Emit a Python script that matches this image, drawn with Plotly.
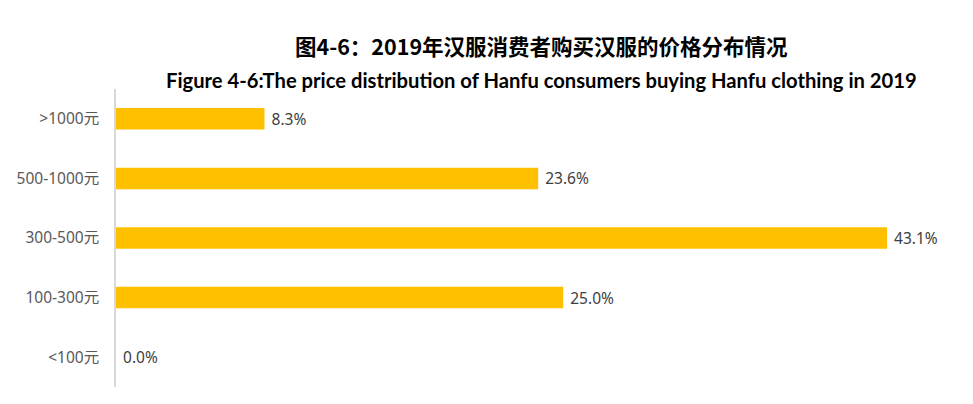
import plotly.graph_objects as go

categories = ["<100元", "100-300元", "300-500元", "500-1000元", ">1000元"]
values = [0.0, 25.0, 43.1, 23.6, 8.3]
title_cn = "图4-6：2019年汉服消费者购买汉服的价格分布情况"
title_en = "Figure 4-6:The price distribution of Hanfu consumers buying Hanfu clothing in 2019"

W, H = 957, 388
L, R, T, B = 108, 44, 81, 9

fig = go.Figure(go.Bar(
    x=values, y=categories, orientation="h",
    marker=dict(color="#FFC000", line=dict(width=0)),
    width=0.36,
    text=["\u00a0" + f"{v:.1f}%" for v in values],
    textposition="outside",
    constraintext="none",
    textfont=dict(family="Noto Sans, DejaVu Sans, sans-serif", size=15.5, color="#404040"),
    cliponaxis=False,
))

fig.update_layout(
    width=W, height=H,
    margin=dict(l=L, r=R, t=T, b=B),
    plot_bgcolor="white", paper_bgcolor="white",
    showlegend=False,
    xaxis=dict(range=[0, 45], visible=False, showgrid=False, zeroline=False),
    yaxis=dict(
        categoryorder="array", categoryarray=categories,
        showline=True, linecolor="#D9D9D9", linewidth=1.5,
        ticks="", ticklabelstandoff=12, automargin=False,
        tickfont=dict(family="Noto Sans, Noto Sans CJK SC, sans-serif", size=15.5, color="#595959"),
        showgrid=False, zeroline=False,
    ),
)

pw = W - L - R
ph = H - T - B
def px(x, y):
    return (x - L) / pw, (H - y - B) / ph

x1, y1 = px(533, 37)
x2, y2 = px(533, 72)
fig.add_annotation(text="<b>" + title_cn + "</b>", x=x1, y=y1, xref="paper", yref="paper",
                   showarrow=False, xanchor="center", yanchor="middle",
                   font=dict(family="Noto Sans CJK SC, sans-serif", size=21.5, color="#000000"))
fig.add_annotation(text="<b>" + title_en + "</b>", x=x2, y=y2, xref="paper", yref="paper",
                   showarrow=False, xanchor="center", yanchor="middle",
                   font=dict(family="Lato, sans-serif", size=20.2, color="#000000"))

fig.write_html("out.html")
